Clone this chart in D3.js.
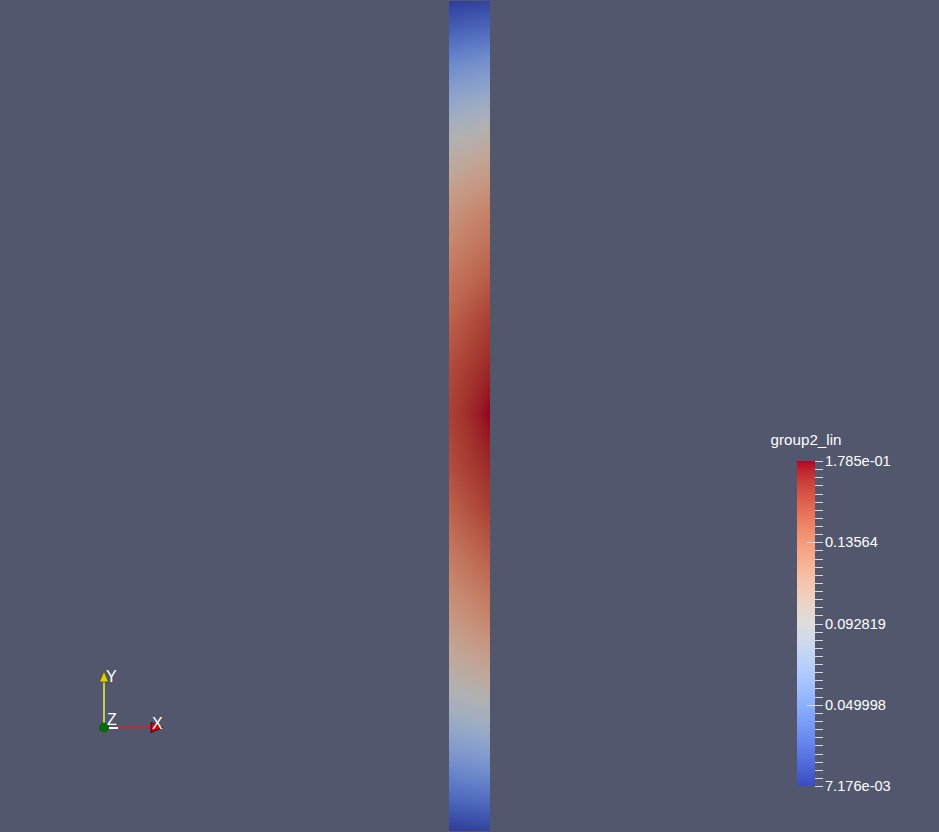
<!DOCTYPE html>
<html><head><meta charset="utf-8">
<script src="https://cdn.jsdelivr.net/npm/d3@7"></script>
<style>html,body{margin:0;padding:0;background:#52576e;overflow:hidden}svg{display:block}</style>
</head><body><svg id="c" width="939" height="832"></svg>
<script>
// ---- data ----
const fieldName = "group2_lin";
const rangeMin = 0.007176;
const rangeMax = 0.1785;
// positions along the strip (0 = bottom, 1 = top)
const rowPos = [1.0, 0.965, 0.929, 0.881, 0.839, 0.796, 0.748, 0.688, 0.616, 0.555, 0.504,
                0.447, 0.387, 0.314, 0.254, 0.206, 0.164, 0.122, 0.073, 0.037, 0.0];
// field values on the left edge of the strip
const leftValues = [0.0072, 0.0243, 0.0449, 0.0688, 0.0894, 0.1048, 0.1202, 0.1339, 0.1476, 0.1579, 0.1614,
                    0.1579, 0.1476, 0.1322, 0.1168, 0.1031, 0.0894, 0.0706, 0.0466, 0.0277, 0.0072];
// field values on the right edge of the strip
const rightValues = [0.0106, 0.0294, 0.0517, 0.0757, 0.0980, 0.1151, 0.1322, 0.1459, 0.1631, 0.1716, 0.1785,
                     0.1716, 0.1631, 0.1459, 0.1305, 0.1134, 0.0963, 0.0774, 0.0517, 0.0312, 0.0106];
const tickValues = [0.1785, 0.13564, 0.092819, 0.049998, 0.007176];
const tickLabels = ["1.785e-01", "0.13564", "0.092819", "0.049998", "7.176e-03"];
// Cool to Warm colormap control points
const cmapPos = [0,0.03125,0.0625,0.09375,0.125,0.15625,0.1875,0.21875,0.25,0.28125,0.3125,0.34375,0.375,0.40625,0.4375,0.46875,0.5,
                 0.53125,0.5625,0.59375,0.625,0.65625,0.6875,0.71875,0.75,0.78125,0.8125,0.84375,0.875,0.90625,0.9375,0.96875,1];
const cmapColors = ["#3b4cc0","#445acc","#4d68d7","#5775e1","#6282ea","#6c8ef1","#779af7","#82a5fb","#8db0fe","#98b9ff","#a3c2ff","#aec9fd","#b8d0f9","#c2d5f4","#ccd9ee","#d5dbe6","#dddddd",
                    "#e5d8d1","#ecd3c5","#f1ccb9","#f5c4ad","#f7bba0","#f7b194","#f7a687","#f49a7b","#f18d6f","#ec7f63","#e57058","#de604d","#d55042","#cb3e38","#c0282f","#b40426"];
const axesLabels = ["X", "Y", "Z"];

// ---- scales ----
const svg = d3.select("#c");
const W = 939, H = 832;
svg.append("rect").attr("width", W).attr("height", H).attr("fill", "#52576e");

const color = d3.scaleLinear()
  .domain(cmapPos.map(p => rangeMin + p * (rangeMax - rangeMin)))
  .range(cmapColors)
  .interpolate(d3.interpolateRgb)
  .clamp(true);

const lightFactor = 0.8;
const lit = c => { const r = d3.rgb(c); return d3.rgb(r.r * lightFactor, r.g * lightFactor, r.b * lightFactor).formatHex(); };

const xS = d3.scaleLinear().domain([0, 1]).range([449, 490]);
const yS = d3.scaleLinear().domain([0, 1]).range([831, 1]);
const leftS = d3.scaleLinear().domain(rowPos).range(leftValues);
const rightS = d3.scaleLinear().domain(rowPos).range(rightValues);

// ---- strip ----
const defs = svg.append("defs");
const rows = d3.range(Math.round(yS(1)), Math.round(yS(0)));
const fr = [0, 0.25, 0.5, 0.75, 1];
rows.forEach((py, i) => {
  const d = yS.invert(py + 0.5);
  const vl = leftS(d), vr = rightS(d);
  const g = defs.append("linearGradient").attr("id", "r" + i).attr("x1", 0).attr("x2", 1).attr("y1", 0).attr("y2", 0);
  fr.forEach(f => g.append("stop").attr("offset", f).attr("stop-color", lit(color(vl + (vr - vl) * f))));
});
svg.append("g").selectAll("rect").data(rows).join("rect")
  .attr("x", xS(0)).attr("width", xS(1) - xS(0))
  .attr("y", d => d).attr("height", 1.05)
  .attr("fill", (d, i) => `url(#r${i})`)
  .attr("shape-rendering", "crispEdges");

// ---- colorbar ----
const cb = d3.scaleLinear().domain([rangeMin, rangeMax]).range([786, 461]);
const cbg = defs.append("linearGradient").attr("id", "cbg").attr("x1", 0).attr("x2", 0).attr("y1", 1).attr("y2", 0);
cmapPos.forEach((p, i) => cbg.append("stop").attr("offset", p).attr("stop-color", cmapColors[i]));
svg.append("rect").attr("x", 797).attr("width", 18).attr("y", cb(rangeMax)).attr("height", cb(rangeMin) - cb(rangeMax)).attr("fill", "url(#cbg)");

const minor = d3.range(41).map(i => rangeMin + i * (rangeMax - rangeMin) / 40);
svg.append("g").selectAll("line").data(minor).join("line")
  .attr("x1", 815).attr("x2", 823).attr("y1", d => Math.round(cb(d)) + 0.5).attr("y2", d => Math.round(cb(d)) + 0.5)
  .attr("stroke", "#d9d9d9").attr("stroke-width", 1);
svg.append("g").selectAll("line").data(tickValues.slice(1, 4)).join("line")
  .attr("x1", 807).attr("x2", 823).attr("y1", d => Math.round(cb(d)) + 0.5).attr("y2", d => Math.round(cb(d)) + 0.5)
  .attr("stroke", "#d9d9d9").attr("stroke-width", 1);
svg.append("g").selectAll("text").data(tickValues).join("text")
  .attr("x", 825).attr("y", d => cb(d)).attr("dy", "0.35em")
  .attr("font-family", "Liberation Sans, Arial, sans-serif").attr("font-size", 14.6)
  .attr("fill", "#ffffff").text((d, i) => tickLabels[i]);
svg.append("text").attr("x", 806).attr("y", 445).attr("text-anchor", "middle")
  .attr("font-family", "Liberation Sans, Arial, sans-serif").attr("font-size", 15.2)
  .attr("fill", "#ffffff").text(fieldName);

// ---- orientation axes ----
const ax = svg.append("g");
const ox = 104, oy = 727.5;
ax.append("line").attr("x1", ox).attr("y1", oy).attr("x2", ox).attr("y2", 682).attr("stroke", "#f0f050").attr("stroke-width", 1.5);
ax.append("path").attr("d", `M${ox-4.5},682 L${ox},671 L${ox+4.5},682 Z`).attr("fill", "#e0d000").attr("stroke", "#505000").attr("stroke-width", 0.8);
ax.append("line").attr("x1", ox).attr("y1", oy).attr("x2", 151).attr("y2", oy).attr("stroke", "#e02020").attr("stroke-width", 1.5);
ax.append("path").attr("d", `M151,${oy-5} L163,${oy} L151,${oy+5} Z`).attr("fill", "#e00000").attr("stroke", "#300000").attr("stroke-width", 0.8);
ax.append("line").attr("x1", 109).attr("x2", 118).attr("y1", 728).attr("y2", 728).attr("stroke", "#ffffff").attr("stroke-width", 2);
ax.append("circle").attr("cx", ox).attr("cy", oy).attr("r", 5).attr("fill", "#0a6a0a");
const lab = [[152, 729], [106, 682], [107, 725]];
ax.selectAll("text").data(axesLabels).join("text")
  .attr("x", (d, i) => lab[i][0]).attr("y", (d, i) => lab[i][1])
  .attr("font-family", "Liberation Sans, Arial, sans-serif").attr("font-size", 16)
  .attr("fill", "#ffffff").text(d => d);
</script></body></html>
